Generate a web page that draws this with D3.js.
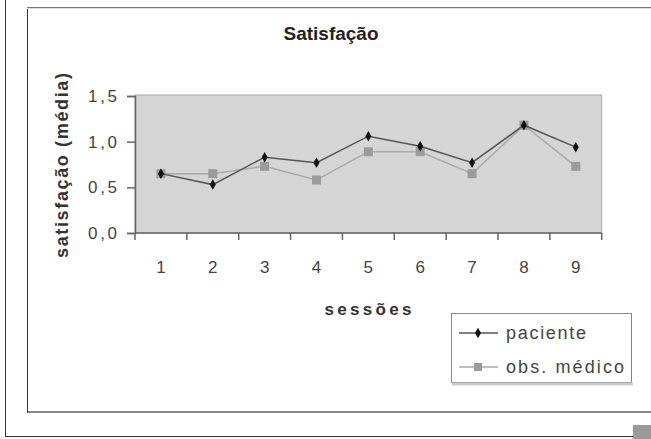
<!DOCTYPE html>
<html><head><meta charset="utf-8">
<script src="https://cdn.jsdelivr.net/npm/d3@7/dist/d3.min.js"></script>
<style>body{margin:0;background:#fff}svg{display:block;font-family:"Liberation Sans",Arial,sans-serif}</style>
</head><body>
<svg id="c" width="651" height="439"></svg>
<script>
const sessions = ["1","2","3","4","5","6","7","8","9"];
const paciente = [0.65,0.53,0.83,0.77,1.06,0.95,0.77,1.18,0.94];
const medico   = [0.65,0.65,0.73,0.58,0.89,0.89,0.65,1.18,0.73];
const yTicks = [0,0.5,1.0,1.5];
const seriesNames = ["paciente","obs. médico"];
const titleText = "Satisfação";
const xTitle = "sessões";
const yTitle = "satisfação (média)";

const svg = d3.select("#c");
// outer frames
svg.append("line").attr("x1",5.5).attr("y1",0).attr("x2",5.5).attr("y2",436.5).attr("stroke","#333");
svg.append("line").attr("x1",5).attr("y1",436.5).attr("x2",633).attr("y2",436.5).attr("stroke","#333");
svg.append("rect").attr("x",633).attr("y",425).attr("width",18).attr("height",14).attr("fill","#9a9a9a");
svg.append("line").attr("x1",27.5).attr("y1",7).attr("x2",27.5).attr("y2",413).attr("stroke","#333");
svg.append("line").attr("x1",27).attr("y1",7.5).attr("x2",651).attr("y2",7.5).attr("stroke","#777");
svg.append("line").attr("x1",27).attr("y1",8.5).attr("x2",651).attr("y2",8.5).attr("stroke","#ddd");
svg.append("line").attr("x1",28).attr("y1",412).attr("x2",651).attr("y2",412).attr("stroke","#888").attr("stroke-width",2);

const L=135, R=601.7, T=96, B=233;
const x = d3.scaleBand().domain(sessions).range([L,R]);
const y = d3.scaleLinear().domain([0,1.5]).range([B,T]);

// plot area
svg.append("rect").attr("x",L).attr("y",y(1.5)-1).attr("width",R-L).attr("height",B-y(1.5)+1)
  .attr("fill","#d5d5d5").attr("stroke","#a8a8a8");

// y axis
const ya = svg.append("g").attr("transform",`translate(${L},0)`)
  .call(d3.axisLeft(y).tickValues(yTicks).tickSize(8).tickPadding(10)
    .tickFormat(d=>d3.format(".1f")(d).replace(".",",")));
ya.select(".domain").attr("stroke","#666").attr("stroke-width",1.5);
ya.selectAll(".tick line").attr("stroke","#666").attr("stroke-width",1.5);
ya.selectAll(".tick text").attr("font-size",17).attr("fill","#444").attr("font-family","Liberation Sans, Arial")
  .attr("textLength",29).attr("lengthAdjust","spacing");

// x axis
svg.append("line").attr("x1",L).attr("x2",R).attr("y1",B).attr("y2",B).attr("stroke","#666").attr("stroke-width",1.5);
const bounds = sessions.map(d=>x(d)).concat([R]);
svg.selectAll(".xt").data(bounds).join("line").attr("class","xt")
  .attr("x1",d=>d).attr("x2",d=>d).attr("y1",B).attr("y2",B+7).attr("stroke","#666").attr("stroke-width",1.5);
svg.selectAll(".xl").data(sessions).join("text").attr("class","xl")
  .attr("x",d=>x(d)+x.bandwidth()/2).attr("y",273).attr("text-anchor","middle")
  .attr("font-size",17).attr("fill","#444").text(d=>d);

// titles
svg.append("text").attr("x",331).attr("y",40).attr("text-anchor","middle").attr("font-size",19)
  .attr("font-weight","bold").attr("fill","#222").attr("textLength",95).attr("lengthAdjust","spacingAndGlyphs").text(titleText);
svg.append("text").attr("x",368).attr("y",315).attr("text-anchor","middle").attr("font-size",17)
  .attr("font-weight","bold").attr("fill","#333").attr("textLength",87).attr("lengthAdjust","spacing").text(xTitle);
svg.append("text").attr("transform","translate(68,165.5) rotate(-90)").attr("text-anchor","middle").attr("font-size",18)
  .attr("font-weight","bold").attr("fill","#333").attr("textLength",185).attr("lengthAdjust","spacing").text(yTitle);

// series
const line = d3.line().x((d,i)=>x(sessions[i])+x.bandwidth()/2).y(d=>y(d));
svg.append("path").datum(medico).attr("d",line).attr("fill","none").attr("stroke","#aaa").attr("stroke-width",1.5);
svg.selectAll(".sq").data(medico).join("rect").attr("class","sq")
  .attr("x",(d,i)=>x(sessions[i])+x.bandwidth()/2-4.5).attr("y",d=>y(d)-4.5).attr("width",9).attr("height",9).attr("fill","#9b9b9b");
svg.append("path").datum(paciente).attr("d",line).attr("fill","none").attr("stroke","#555").attr("stroke-width",1.5);
const dia = d3.symbol().type(d3.symbolDiamond).size(32);
svg.selectAll(".dm").data(paciente).join("path").attr("class","dm").attr("d",dia)
  .attr("transform",(d,i)=>`translate(${x(sessions[i])+x.bandwidth()/2},${y(d)})`).attr("fill","#111");

// legend
const lg = svg.append("g");
lg.append("rect").attr("x",451.5).attr("y",313.5).attr("width",180).attr("height",69).attr("fill","#fff").attr("stroke","#888");
lg.append("line").attr("x1",452).attr("x2",633).attr("y1",384).attr("y2",384).attr("stroke","#ccc").attr("stroke-width",3);
const ly = [333, 367];
const lw = [80, 118];
seriesNames.forEach((n,i)=>{
  lg.append("line").attr("x1",459).attr("x2",498).attr("y1",ly[i]).attr("y2",ly[i])
    .attr("stroke",i==0?"#555":"#aaa").attr("stroke-width",1.5);
  if(i==0) lg.append("path").attr("d",dia).attr("transform",`translate(478,${ly[i]})`).attr("fill","#111");
  else lg.append("rect").attr("x",474).attr("y",ly[i]-4).attr("width",8).attr("height",8).attr("fill","#9b9b9b");
  lg.append("text").attr("x",506).attr("y",ly[i]+6).attr("font-size",18).attr("fill","#444")
    .attr("textLength",lw[i]).attr("lengthAdjust","spacing").text(n);
});
</script>
</body></html>
